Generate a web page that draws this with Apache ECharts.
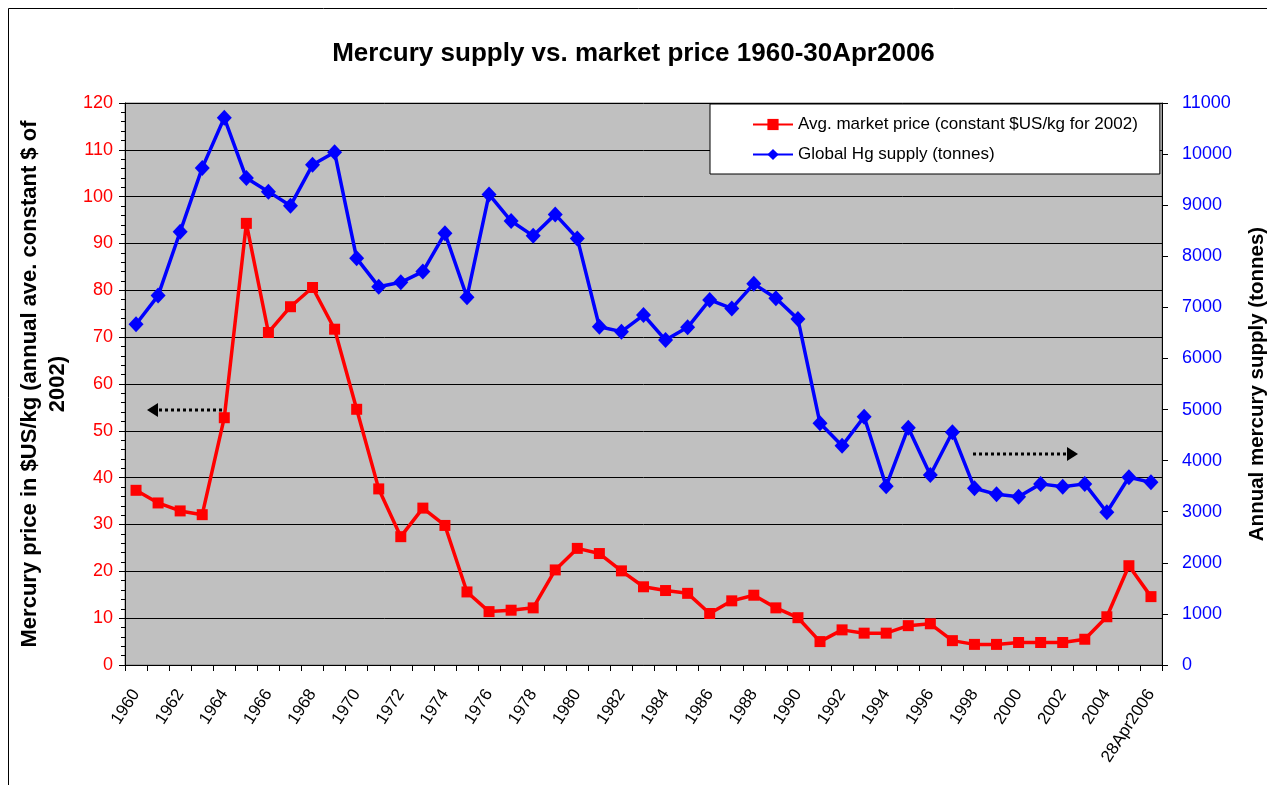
<!DOCTYPE html>
<html>
<head>
<meta charset="utf-8">
<script src="https://cdn.jsdelivr.net/npm/echarts@6/dist/echarts.min.js"></script>
<style>
html,body{margin:0;padding:0;background:#fff;}
#chart{width:1267px;height:785px;}
</style>
</head>
<body>
<div id="chart"></div>
<script>
var categories = ['1960','1961','1962','1963','1964','1965','1966','1967','1968','1969',
  '1970','1971','1972','1973','1974','1975','1976','1977','1978','1979',
  '1980','1981','1982','1983','1984','1985','1986','1987','1988','1989',
  '1990','1991','1992','1993','1994','1995','1996','1997','1998','1999',
  '2000','2001','2002','2003','2004','2005','28Apr2006'];

var priceValues = [37.3, 34.6, 32.9, 32.1, 52.8, 94.3, 71.0, 76.5, 80.6, 71.7,
  54.6, 37.6, 27.4, 33.5, 29.8, 15.6, 11.4, 11.7, 12.2, 20.3,
  24.9, 23.8, 20.1, 16.7, 15.9, 15.3, 11.0, 13.7, 14.9, 12.2,
  10.1, 5.0, 7.5, 6.8, 6.8, 8.4, 8.8, 5.2, 4.4, 4.4,
  4.8, 4.8, 4.8, 5.5, 10.3, 21.2, 14.6];

var supplyValues = [6670, 7230, 8480, 9730, 10710, 9530, 9265, 8990, 9790, 10035,
  7960, 7405, 7490, 7700, 8450, 7200, 9210, 8690, 8400, 8820,
  8350, 6620, 6525, 6850, 6360, 6610, 7145, 6980, 7460, 7180,
  6770, 4730, 4290, 4860, 3500, 4645, 3720, 4555, 3460, 3340,
  3295, 3545, 3490, 3545, 2990, 3675, 3575];

var seriesNames = ['Avg. market price (constant $US/kg for 2002)', 'Global Hg supply (tonnes)'];

var FONT = 'Liberation Sans, Arial, sans-serif';
var chart = echarts.init(document.getElementById('chart'));

function arrow(x1, x2, y, dir) {
  return [
    {type:'line', shape:{x1:x1, y1:y, x2:x2 - dir*10, y2:y}, style:{stroke:'#000', lineWidth:3, lineDash:[3,3]}, z:100},
    {type:'polygon', shape:{points:[[x2, y],[x2 - dir*11, y-7],[x2 - dir*11, y+7]]}, style:{fill:'#000'}, z:100}
  ];
}

var option = {
  backgroundColor: '#fff',
  animation: false,
  title: {
    text: 'Mercury supply vs. market price 1960-30Apr2006',
    left: 'center', top: 36,
    textStyle: {fontFamily: FONT, fontSize: 26, fontWeight: 'bold', color: '#000'}
  },
  legend: {
    orient: 'vertical',
    left: 710, top: 104,
    padding: [12, 22, 11, 42],
    itemGap: 13,
    itemWidth: 40, itemHeight: 14,
    backgroundColor: '#fff',
    borderColor: '#000', borderWidth: 1,
    textStyle: {fontFamily: FONT, fontSize: 17, color: '#000'},
    data: seriesNames
  },
  grid: {
    left: 125, right: 105, top: 103, bottom: 120,
    outerBoundsMode: 'none', containLabel: false,
    show: true, backgroundColor: '#C0C0C0', borderColor: '#808080', borderWidth: 1
  },
  xAxis: {
    type: 'category',
    data: categories,
    boundaryGap: true,
    axisLine: {lineStyle: {color: '#000', width: 1}},
    axisTick: {show: true, interval: 0, length: 6, lineStyle: {color: '#000'}},
    axisLabel: {interval: 1, rotate: 57, margin: 26, fontFamily: FONT, fontSize: 17, color: '#000'},
    splitLine: {show: false}
  },
  yAxis: [
    {
      type: 'value', position: 'left', min: 0, max: 120, interval: 10,
      name: 'Mercury price in $US/kg (annual ave. constant $ of\n2002)',
      nameLocation: 'middle', nameRotate: 90, nameGap: 51,
      nameTextStyle: {fontFamily: FONT, fontSize: 22, fontWeight: 'bold', color: '#000', lineHeight: 28, align: 'center'},
      axisLine: {show: true, lineStyle: {color: '#000'}},
      axisTick: {show: true, length: 6, lineStyle: {color: '#000'}},
      minorTick: {show: true, splitNumber: 5, length: 4, lineStyle: {color: '#000'}},
      axisLabel: {margin: 12, fontFamily: FONT, fontSize: 18, color: '#ff0000'},
      splitLine: {show: true, lineStyle: {color: '#000', width: 1}}
    },
    {
      type: 'value', position: 'right', min: 0, max: 11000, interval: 1000,
      name: 'Annual mercury supply (tonnes)',
      nameLocation: 'middle', nameRotate: 90, nameGap: 85,
      nameTextStyle: {fontFamily: FONT, fontSize: 20.5, fontWeight: 'bold', color: '#000'},
      axisLine: {show: true, lineStyle: {color: '#000'}},
      axisTick: {show: true, length: 6, lineStyle: {color: '#000'}},
      axisLabel: {margin: 20, fontFamily: FONT, fontSize: 18, color: '#0000ff', formatter: function (v) { return String(v); }},
      splitLine: {show: false}
    }
  ],
  series: [
    {
      name: seriesNames[0], type: 'line', yAxisIndex: 0, data: priceValues,
      symbol: 'rect', symbolSize: 11, showAllSymbol: true,
      lineStyle: {color: '#ff0000', width: 3.5},
      itemStyle: {color: '#ff0000'},
      z: 3
    },
    {
      name: seriesNames[1], type: 'line', yAxisIndex: 1, data: supplyValues,
      symbol: 'diamond', symbolSize: [15, 16], showAllSymbol: true,
      lineStyle: {color: '#0000ff', width: 3.5},
      itemStyle: {color: '#0000ff'},
      z: 3
    }
  ],
  graphic: [
    {type:'rect', shape:{x:8.5, y:8.5, width:1300, height:900}, style:{fill:'none', stroke:'#000', lineWidth:1}, z:0, silent:true}
  ].concat(arrow(222, 147, 410, -1)).concat(arrow(973, 1078, 454, 1))
};
chart.setOption(option);
</script>
</body>
</html>
